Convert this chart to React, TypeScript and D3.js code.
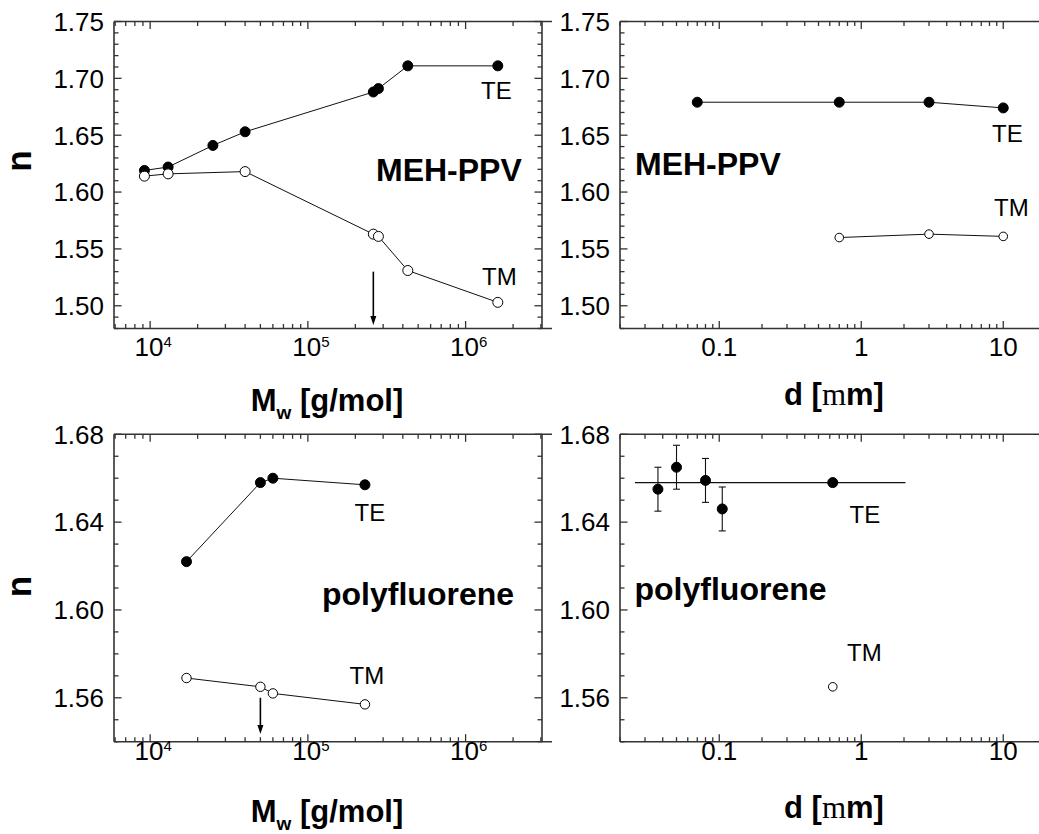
import React from "react";
import * as d3 from "d3";

// ---- data ----
// MEH-PPV, refractive index vs molecular weight
const mehMwTE = [9.2e3, 1.3e4, 2.5e4, 4.0e4, 2.6e5, 2.8e5, 4.3e5, 1.6e6];
const mehNTE_Mw = [1.619, 1.622, 1.641, 1.653, 1.688, 1.691, 1.711, 1.711];
const mehMwTM = [9.2e3, 1.3e4, 4.0e4, 2.6e5, 2.8e5, 4.3e5, 1.6e6];
const mehNTM_Mw = [1.614, 1.616, 1.618, 1.563, 1.561, 1.531, 1.503];
const mehArrow = { x: 2.6e5, from: 1.53, to: 1.483 };

// MEH-PPV, refractive index vs film thickness
const mehDTE = [0.07, 0.7, 3, 10];
const mehNTE_d = [1.679, 1.679, 1.679, 1.674];
const mehDTM = [0.7, 3, 10];
const mehNTM_d = [1.56, 1.563, 1.561];

// polyfluorene, refractive index vs molecular weight
const pfMw = [1.7e4, 5.0e4, 6.0e4, 2.3e5];
const pfNTE_Mw = [1.622, 1.658, 1.66, 1.657];
const pfNTM_Mw = [1.569, 1.565, 1.562, 1.557];
const pfArrow = { x: 5.0e4, from: 1.56, to: 1.5435 };

// polyfluorene, refractive index vs film thickness
const pfDTE = [0.037, 0.05, 0.08, 0.105, 0.63];
const pfNTE_d = [1.655, 1.665, 1.659, 1.646, 1.658];
const pfErrTE_d = [0.01, 0.01, 0.01, 0.01, 0];
const pfDTM = [0.63];
const pfNTM_d = [1.565];
const pfFit = { x0: 0.0255, x1: 2.05, n: 1.658 };

// axes
const mwDomain: [number, number] = [5.9e3, 3.05e6];
const dDomain: [number, number] = [0.02, 20];
const nDomainTop: [number, number] = [1.48, 1.75];
const nDomainBottom: [number, number] = [1.54, 1.68];
const mwTickLabels = [
  { v: 1e4, base: "10", exp: "4" },
  { v: 1e5, base: "10", exp: "5" },
  { v: 1e6, base: "10", exp: "6" },
];
const dTickLabels = [
  { v: 0.1, base: "0.1", exp: "" },
  { v: 1, base: "1", exp: "" },
  { v: 10, base: "10", exp: "" },
];

const FONT = "'Liberation Sans', Arial, Helvetica, sans-serif";
const FRAME = "#333";

type Series = {
  x: number[];
  y: number[];
  filled: boolean;
  r: number;
  connect: boolean;
  err?: number[];
};

type PanelProps = {
  x0: number;
  x1: number;
  y0: number;
  y1: number;
  xDomain: [number, number];
  yDomain: [number, number];
  yMajor: number;
  xLabels: { v: number; base: string; exp: string }[];
  xLabelBaseline: number;
  series: Series[];
  arrow?: { x: number; from: number; to: number };
  fit?: { x0: number; x1: number; n: number };
  rightFrame: boolean;
  texts: { t: string; x: number; y: number; bold?: boolean; size: number }[];
};

function Panel(p: PanelProps) {
  const xs = d3.scaleLog().domain(p.xDomain).range([p.x0, p.x1]);
  const ys = d3.scaleLinear().domain(p.yDomain).range([p.y1, p.y0]);
  const line = d3
    .line<[number, number]>()
    .x((d) => xs(d[0]))
    .y((d) => ys(d[1]));

  const xTicks = xs.ticks().filter((v) => v >= p.xDomain[0] && v <= p.xDomain[1]);
  const isMajorX = (v: number) => Math.abs(Math.log10(v) - Math.round(Math.log10(v))) < 1e-9;

  const nMinor = Math.round((p.yDomain[1] - p.yDomain[0]) / 0.01);
  const yTicks = d3.range(nMinor + 1).map((i) => +(p.yDomain[0] + i * 0.01).toFixed(3));
  const isMajorY = (v: number) => Math.abs(v / p.yMajor - Math.round(v / p.yMajor)) < 1e-6;
  const fmt = d3.format(".2f");

  const MAJ = 7.5;
  const MIN = 4.5;

  return (
    <g>
      {/* connecting lines */}
      {p.series
        .filter((s) => s.connect)
        .map((s, i) => (
          <path
            key={"l" + i}
            d={line(s.x.map((v, j) => [v, s.y[j]] as [number, number])) || ""}
            fill="none"
            stroke="#111"
            strokeWidth={1}
          />
        ))}
      {p.fit && (
        <line
          x1={xs(p.fit.x0)}
          x2={xs(p.fit.x1)}
          y1={ys(p.fit.n)}
          y2={ys(p.fit.n)}
          stroke="#111"
          strokeWidth={1.2}
        />
      )}
      {/* error bars */}
      {p.series.map((s, i) =>
        s.err
          ? s.x.map((v, j) =>
              s.err![j] > 0 ? (
                <g key={"e" + i + "-" + j} stroke="#111" strokeWidth={1.1}>
                  <line x1={xs(v)} x2={xs(v)} y1={ys(s.y[j] - s.err![j])} y2={ys(s.y[j] + s.err![j])} />
                  <line x1={xs(v) - 3.5} x2={xs(v) + 3.5} y1={ys(s.y[j] + s.err![j])} y2={ys(s.y[j] + s.err![j])} />
                  <line x1={xs(v) - 3.5} x2={xs(v) + 3.5} y1={ys(s.y[j] - s.err![j])} y2={ys(s.y[j] - s.err![j])} />
                </g>
              ) : null
            )
          : null
      )}
      {/* markers */}
      {p.series.map((s, i) =>
        s.x.map((v, j) => (
          <circle
            key={"m" + i + "-" + j}
            cx={xs(v)}
            cy={ys(s.y[j])}
            r={s.r}
            fill={s.filled ? "#000" : "#fff"}
            stroke="#000"
            strokeWidth={1}
          />
        ))
      )}
      {/* arrow */}
      {p.arrow && (
        <g>
          <line
            x1={xs(p.arrow.x)}
            x2={xs(p.arrow.x)}
            y1={ys(p.arrow.from)}
            y2={ys(p.arrow.to) - 7}
            stroke="#000"
            strokeWidth={1.6}
          />
          <path
            d={`M${xs(p.arrow.x) - 3},${ys(p.arrow.to) - 9} L${xs(p.arrow.x) + 3},${ys(p.arrow.to) - 9} L${xs(
              p.arrow.x
            )},${ys(p.arrow.to)} Z`}
            fill="#000"
          />
        </g>
      )}
      {/* frame */}
      <g stroke={FRAME} strokeWidth={1.6} fill="none">
        <line x1={p.x0} x2={p.x1 + 10} y1={p.y0} y2={p.y0} />
        <line x1={p.x0} x2={p.x1 + 10} y1={p.y1} y2={p.y1} />
        <line x1={p.x0} x2={p.x0} y1={p.y0} y2={p.y1} />
        {p.rightFrame && <line x1={p.x1} x2={p.x1} y1={p.y0} y2={p.y1} />}
      </g>
      {/* x ticks (bottom and top, pointing inward) */}
      <g stroke={FRAME} strokeWidth={1.3}>
        {xTicks.map((v) => {
          const L = isMajorX(v) ? MAJ : MIN;
          return (
            <g key={"xt" + v}>
              <line x1={xs(v)} x2={xs(v)} y1={p.y1} y2={p.y1 - L} />
              <line x1={xs(v)} x2={xs(v)} y1={p.y0} y2={p.y0 + L} />
            </g>
          );
        })}
        {yTicks.map((v) => {
          const L = isMajorY(v) ? MAJ : MIN;
          return (
            <g key={"yt" + v}>
              <line x1={p.x0} x2={p.x0 + L} y1={ys(v)} y2={ys(v)} />
              {p.rightFrame && <line x1={p.x1} x2={p.x1 - L} y1={ys(v)} y2={ys(v)} />}
            </g>
          );
        })}
      </g>
      {/* y tick labels */}
      {yTicks.filter(isMajorY).map((v) => (
        <text
          key={"yl" + v}
          x={p.x0 - 10}
          y={ys(v)}
          dy="0.36em"
          textAnchor="end"
          fontSize={26}
          fontFamily={FONT}
          fill="#000"
        >
          {fmt(v)}
        </text>
      ))}
      {/* x tick labels */}
      {p.xLabels.map((l) => (
        <text
          key={"xl" + l.v}
          x={xs(l.v) + (l.exp ? 3 : 0)}
          y={p.xLabelBaseline}
          textAnchor="middle"
          fontSize={26}
          fontFamily={FONT}
          fill="#000"
        >
          {l.base}
          {l.exp && (
            <tspan fontSize={15} dy={-9}>
              {l.exp}
            </tspan>
          )}
        </text>
      ))}
      {/* annotations */}
      {p.texts.map((t, i) => (
        <text
          key={"t" + i}
          x={t.x}
          y={t.y}
          fontSize={t.size}
          fontWeight={t.bold ? "bold" : "normal"}
          fontFamily={FONT}
          fill="#000"
        >
          {t.t}
        </text>
      ))}
    </g>
  );
}

function MwLabel({ x, y }: { x: number; y: number }) {
  return (
    <text x={x} y={y} textAnchor="middle" fontSize={31} fontWeight="bold" fontFamily={FONT}>
      M
      <tspan fontSize={19} dy={8}>
        w
      </tspan>
      <tspan dy={-8}> [g/mol]</tspan>
    </text>
  );
}

function DLabel({ x, y }: { x: number; y: number }) {
  return (
    <text x={x} y={y} textAnchor="middle" fontSize={31} fontWeight="bold" fontFamily={FONT}>
      d [
      <tspan fontFamily="'Liberation Serif', 'Times New Roman', serif" fontWeight="normal">
        m
      </tspan>
      m]
    </text>
  );
}

function NLabel({ x, y }: { x: number; y: number }) {
  return (
    <text
      transform={`translate(${x},${y}) rotate(-90)`}
      textAnchor="middle"
      fontSize={35}
      fontWeight="bold"
      fontFamily={FONT}
    >
      n
    </text>
  );
}

export default function App() {
  const L = { x0: 114, x1: 542 };
  const R = { x0: 620, x1: 1046 };
  const T = { y0: 21.5, y1: 328.5 };
  const B = { y0: 434.3, y1: 741.7 };

  return (
    <svg
      width={1039}
      height={834}
      viewBox="0 0 1039 834"
      style={{ position: "absolute", left: 0, top: 0, background: "#fff" }}
    >
      <rect x={0} y={0} width={1039} height={834} fill="#fff" />

      <Panel
        {...L}
        {...T}
        xDomain={mwDomain}
        yDomain={nDomainTop}
        yMajor={0.05}
        xLabels={mwTickLabels}
        xLabelBaseline={356}
        rightFrame={true}
        series={[
          { x: mehMwTE, y: mehNTE_Mw, filled: true, r: 5, connect: true },
          { x: mehMwTM, y: mehNTM_Mw, filled: false, r: 5, connect: true },
        ]}
        arrow={mehArrow}
        texts={[
          { t: "MEH-PPV", x: 376, y: 180.5, bold: true, size: 32 },
          { t: "TE", x: 481, y: 98.5, size: 24 },
          { t: "TM", x: 482, y: 284.5, size: 24 },
        ]}
      />

      <Panel
        {...R}
        {...T}
        xDomain={dDomain}
        yDomain={nDomainTop}
        yMajor={0.05}
        xLabels={dTickLabels}
        xLabelBaseline={356}
        rightFrame={false}
        series={[
          { x: mehDTE, y: mehNTE_d, filled: true, r: 5, connect: true },
          { x: mehDTM, y: mehNTM_d, filled: false, r: 4.3, connect: true },
        ]}
        texts={[
          { t: "MEH-PPV", x: 635, y: 175, bold: true, size: 32 },
          { t: "TE", x: 992, y: 141.7, size: 24 },
          { t: "TM", x: 994, y: 216, size: 24 },
        ]}
      />

      <Panel
        {...L}
        {...B}
        xDomain={mwDomain}
        yDomain={nDomainBottom}
        yMajor={0.04}
        xLabels={mwTickLabels}
        xLabelBaseline={760}
        rightFrame={true}
        series={[
          { x: pfMw, y: pfNTE_Mw, filled: true, r: 5, connect: true },
          { x: pfMw, y: pfNTM_Mw, filled: false, r: 4.7, connect: true },
        ]}
        arrow={pfArrow}
        texts={[
          { t: "polyfluorene", x: 322, y: 604.5, bold: true, size: 32 },
          { t: "TE", x: 354.5, y: 520.7, size: 24 },
          { t: "TM", x: 349.5, y: 684, size: 24 },
        ]}
      />

      <Panel
        {...R}
        {...B}
        xDomain={dDomain}
        yDomain={nDomainBottom}
        yMajor={0.04}
        xLabels={dTickLabels}
        xLabelBaseline={760}
        rightFrame={false}
        series={[
          { x: pfDTE, y: pfNTE_d, filled: true, r: 5, connect: false, err: pfErrTE_d },
          { x: pfDTM, y: pfNTM_d, filled: false, r: 4.3, connect: false },
        ]}
        fit={pfFit}
        texts={[
          { t: "polyfluorene", x: 634.5, y: 600, bold: true, size: 32 },
          { t: "TE", x: 849.5, y: 522.7, size: 24 },
          { t: "TM", x: 847, y: 660.7, size: 24 },
        ]}
      />

      <NLabel x={31} y={161} />
      <NLabel x={31} y={586.5} />
      <MwLabel x={327} y={411} />
      <MwLabel x={327} y={822} />
      <DLabel x={834} y={405} />
      <DLabel x={834} y={818} />
    </svg>
  );
}
